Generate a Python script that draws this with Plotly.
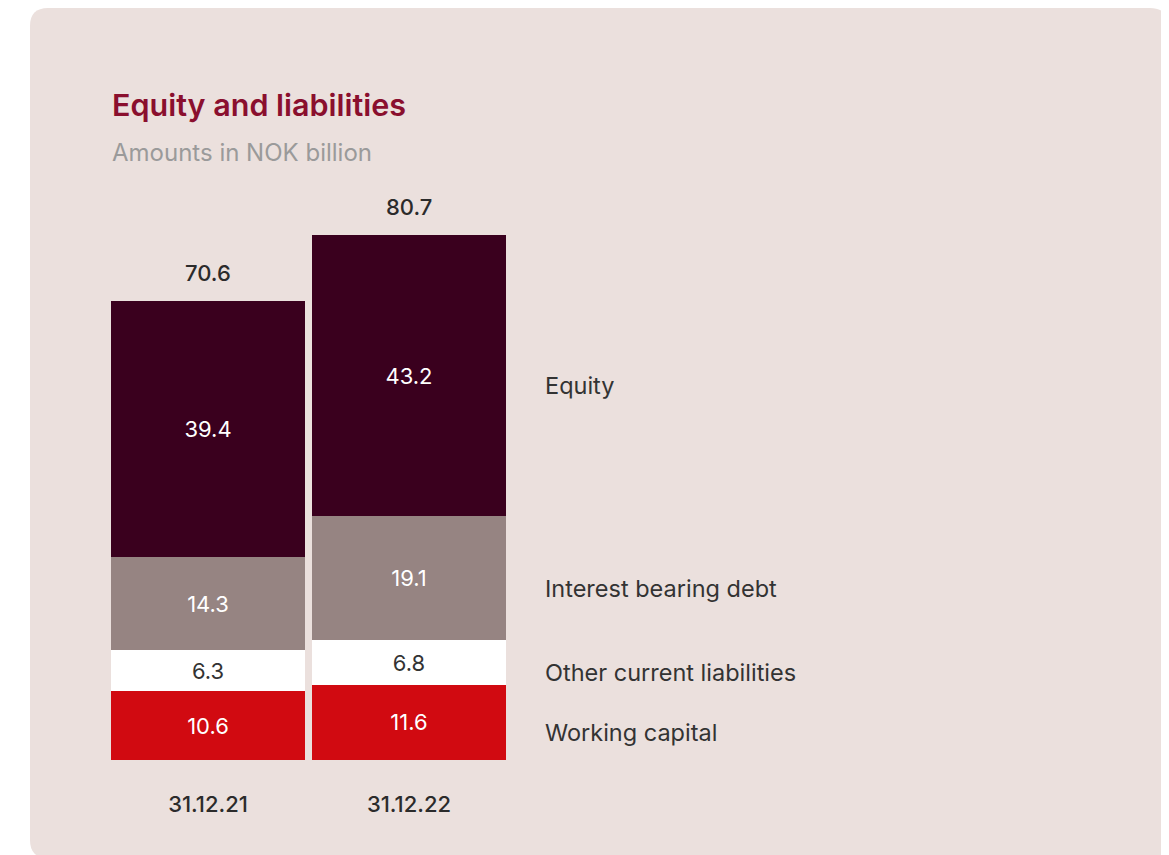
import plotly.graph_objects as go

# ---- data ----
categories = ["31.12.21", "31.12.22"]
series_names = ["Working capital", "Other current liabilities", "Interest bearing debt", "Equity"]
working_capital = [10.6, 11.6]
other_current = [6.3, 6.8]
interest_debt = [14.3, 19.1]
equity = [39.4, 43.2]
totals = [70.6, 80.7]

series_values = [working_capital, other_current, interest_debt, equity]
colors = ["#D10A11", "#FFFFFF", "#968482", "#3A001E"]
text_colors = ["#FFFFFF", "#333333", "#FFFFFF", "#FFFFFF"]

W, H = 1169, 855
OFF = 8  # page body margin offset
FONT = "Inter"


def PX(px):
    return (px - OFF) / W


def PY(py):
    return 1 - (py - OFF) / H


fig = go.Figure()
for name, vals, col, tcol in zip(series_names, series_values, colors, text_colors):
    fig.add_trace(go.Bar(
        x=categories, y=vals, name=name,
        marker=dict(color=col, line=dict(width=0)),
        text=[f"{v:.1f}" for v in vals],
        textposition="inside", insidetextanchor="middle",
        textfont=dict(family=FONT, size=22, color=tcol),
        hoverinfo="skip",
    ))

annotations = []
# totals above bars
for c, t in zip(categories, totals):
    annotations.append(dict(x=c, y=t, xref="x", yref="y", text=f"{t:.1f}",
                            showarrow=False, yanchor="bottom", yshift=13,
                            font=dict(family=FONT, size=22, color="#2B2B2B", weight=500)))
# series labels to the right, at the midpoint of the last bar's segments
cum = 0
last = len(categories) - 1
for name, vals in zip(series_names, series_values):
    mid = cum + vals[last] / 2
    cum += vals[last]
    annotations.append(dict(x=1.5, y=mid, xref="x", yref="y", text=name,
                            showarrow=False, xanchor="left", yanchor="middle",
                            xshift=33, yshift=-10,
                            font=dict(family=FONT, size=23.5, color="#333333")))
# title & subtitle
annotations.append(dict(x=PX(110), y=PY(105), xref="paper", yref="paper",
                        text="Equity and liabilities", showarrow=False,
                        xanchor="left", yanchor="middle",
                        font=dict(family=FONT, size=30.5, color="#8A0F2E", weight=600)))
annotations.append(dict(x=PX(110), y=PY(153), xref="paper", yref="paper",
                        text="Amounts in NOK billion", showarrow=False,
                        xanchor="left", yanchor="middle",
                        font=dict(family=FONT, size=24, color="#9A9A9A")))


# rounded background panel (screen pixels -> paper)
def rrect(x0, y0, x1, y1, r):
    return (f"M {PX(x0 + r)} {PY(y0)} L {PX(x1 - r)} {PY(y0)} "
            f"Q {PX(x1)} {PY(y0)} {PX(x1)} {PY(y0 + r)} L {PX(x1)} {PY(y1 - r)} "
            f"Q {PX(x1)} {PY(y1)} {PX(x1 - r)} {PY(y1)} L {PX(x0 + r)} {PY(y1)} "
            f"Q {PX(x0)} {PY(y1)} {PX(x0)} {PY(y1 - r)} L {PX(x0)} {PY(y0 + r)} "
            f"Q {PX(x0)} {PY(y0)} {PX(x0 + r)} {PY(y0)} Z")


shapes = [dict(type="path", xref="paper", yref="paper", layer="below",
               path=rrect(30, 8, 1168, 858, 18),
               fillcolor="#EBE0DD", line=dict(width=0))]

px_per_unit = 6.5
y_bottom_px = 760
y_top_px = 190
y_range_max = (y_bottom_px - y_top_px) / px_per_unit

fig.update_layout(
    width=W, height=H,
    margin=dict(l=0, r=0, t=0, b=0),
    paper_bgcolor="#FFFFFF", plot_bgcolor="rgba(0,0,0,0)",
    barmode="stack", bargap=0.035,
    showlegend=False,
    annotations=annotations, shapes=shapes,
    xaxis=dict(domain=[PX(107.5), PX(509.5)], range=[-0.5, 1.5],
               showgrid=False, zeroline=False, showline=False, ticks="",
               tickfont=dict(family=FONT, size=22, color="#2B2B2B", weight=500),
               ticklabelstandoff=29, fixedrange=True),
    yaxis=dict(domain=[PY(y_bottom_px), PY(y_top_px)], range=[0, y_range_max],
               showgrid=False, zeroline=False, showline=False, showticklabels=False,
               fixedrange=True),
    font=dict(family=FONT),
)

fig.write_html("out.html")
